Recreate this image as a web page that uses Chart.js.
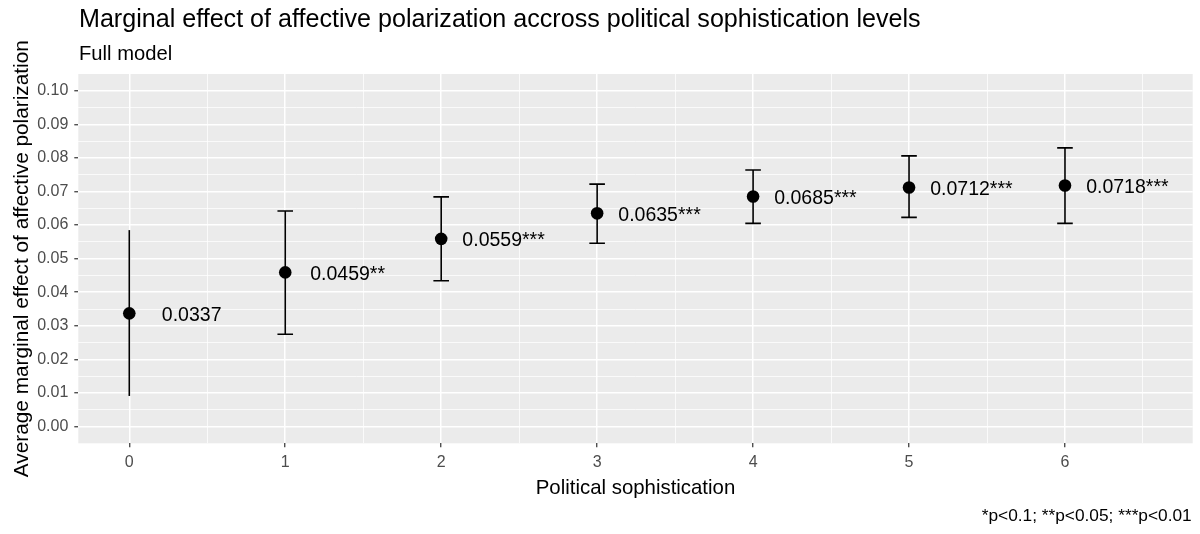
<!DOCTYPE html>
<html>
<head>
<meta charset="utf-8">
<script src="https://cdn.jsdelivr.net/npm/chart.js@4.4.1/dist/chart.umd.min.js"></script>
<style>
  html, body { margin: 0; padding: 0; background: #ffffff; }
  #wrap { width: 1200px; height: 534px; }
  canvas { display: block; }
</style>
</head>
<body>
<div id="wrap"><canvas id="chart" width="1200" height="534"></canvas></div>
<script>
// Average marginal effect of affective polarization by political sophistication level
const sophistication = [0, 1, 2, 3, 4, 5, 6];
const effect = [0.0337, 0.0459, 0.0559, 0.0635, 0.0685, 0.0712, 0.0718];
const ciLow  = [0.0091, 0.0275, 0.0434, 0.0546, 0.0605, 0.0623, 0.0605];
const ciHigh = [0.0585, 0.0642, 0.0684, 0.0722, 0.0764, 0.0806, 0.0830];
const stars  = ['', '**', '***', '***', '***', '***', '***'];

const yTickValues = [0.00, 0.01, 0.02, 0.03, 0.04, 0.05, 0.06, 0.07, 0.08, 0.09, 0.10];
const xTickValues = [0, 1, 2, 3, 4, 5, 6];

const titleText = 'Marginal effect of affective polarization accross political sophistication levels';
const subtitleText = 'Full model';
const xTitleText = 'Political sophistication';
const yTitleText = 'Average marginal effect of affective polarization';
const captionText = '*p<0.1; **p<0.05; ***p<0.01';

const FONT = '"Liberation Sans", Arial, "DejaVu Sans", sans-serif';

// minor lines sit halfway between neighbouring major lines
function withMinor(majors) {
  const out = [];
  for (let i = 0; i < majors.length; i++) {
    out.push({ value: majors[i], minor: false });
    if (i < majors.length - 1) out.push({ value: (majors[i] + majors[i + 1]) / 2, minor: true });
  }
  return out;
}
const yTicksAll = withMinor(yTickValues);
const xTicksAll = withMinor(xTickValues.concat([7])).filter(t => t.value < 7);
const minorAt = (list, v) => list.some(t => t.minor && Math.abs(t.value - v) < 1e-9);

const panelBackground = {
  id: 'panelBackground',
  beforeDraw(chart) {
    const { ctx, chartArea: a } = chart;
    ctx.save();
    ctx.fillStyle = '#EBEBEB';
    ctx.fillRect(a.left, a.top, a.right - a.left, a.bottom - a.top);
    ctx.restore();
  }
};

const errorBars = {
  id: 'errorBars',
  beforeDatasetsDraw(chart) {
    const { ctx, scales: { x, y } } = chart;
    ctx.save();
    ctx.strokeStyle = '#000000';
    ctx.lineWidth = 1.6;
    sophistication.forEach((s, i) => {
      const px = x.getPixelForValue(s);
      const top = y.getPixelForValue(ciHigh[i]);
      const bot = y.getPixelForValue(ciLow[i]);
      ctx.beginPath();
      ctx.moveTo(px, top);
      ctx.lineTo(px, bot);
      if (stars[i]) {
        const half = 7.8;
        ctx.moveTo(px - half, top);
        ctx.lineTo(px + half, top);
        ctx.moveTo(px - half, bot);
        ctx.lineTo(px + half, bot);
      }
      ctx.stroke();
    });
    ctx.restore();
  }
};

const valueLabels = {
  id: 'valueLabels',
  afterDatasetsDraw(chart) {
    const { ctx, scales: { x, y } } = chart;
    ctx.save();
    ctx.fillStyle = '#000000';
    ctx.font = '19.5px ' + FONT;
    ctx.textAlign = 'center';
    ctx.textBaseline = 'middle';
    sophistication.forEach((s, i) => {
      const label = effect[i].toFixed(4) + stars[i];
      ctx.fillText(label, x.getPixelForValue(s + 0.4), y.getPixelForValue(effect[i]) + 2);
    });
    ctx.restore();
  }
};

const annotations = {
  id: 'annotations',
  afterDraw(chart) {
    const { ctx, chartArea: a } = chart;
    ctx.save();
    ctx.fillStyle = '#000000';
    ctx.textBaseline = 'alphabetic';
    ctx.textAlign = 'left';
    ctx.font = '25.1px ' + FONT;
    ctx.fillText(titleText, a.left + 0.7, 27.3);
    ctx.font = '20.2px ' + FONT;
    ctx.fillText(subtitleText, a.left + 0.7, 60);

    ctx.textAlign = 'center';
    ctx.font = '20.4px ' + FONT;
    ctx.fillText(xTitleText, (a.left + a.right) / 2, 493.5);

    ctx.save();
    ctx.font = '20.8px ' + FONT;
    ctx.translate(28, (a.top + a.bottom) / 2);
    ctx.rotate(-Math.PI / 2);
    ctx.fillText(yTitleText, 0, 0);
    ctx.restore();

    ctx.textAlign = 'right';
    ctx.font = '17.3px ' + FONT;
    ctx.fillText(captionText, a.right - 1, 521);
    ctx.restore();
  }
};

new Chart(document.getElementById('chart'), {
  type: 'scatter',
  data: {
    datasets: [{
      data: sophistication.map((s, i) => ({ x: s, y: effect[i] })),
      pointRadius: 6.3,
      pointHoverRadius: 6.3,
      pointBackgroundColor: '#000000',
      pointBorderWidth: 0,
      showLine: false,
      clip: false
    }]
  },
  options: {
    responsive: false,
    animation: false,
    devicePixelRatio: 1,
    layout: { padding: { top: 74, right: 7.3, left: 0, bottom: 0 } },
    plugins: { legend: { display: false }, tooltip: { enabled: false }, title: { display: false } },
    events: [],
    scales: {
      x: {
        type: 'linear',
        min: -0.327,
        max: 6.819,
        afterBuildTicks(scale) { scale.ticks = xTicksAll.map(t => ({ value: t.value })); },
        afterFit(scale) { scale.height = 90.7; },
        border: { display: false },
        grid: {
          color: '#FFFFFF',
          lineWidth: c => (c.tick && minorAt(xTicksAll, c.tick.value)) ? 0.75 : 1.5,
          tickColor: c => (c.tick && minorAt(xTicksAll, c.tick.value)) ? 'rgba(0,0,0,0)' : '#333333',
          tickWidth: 1.2,
          tickLength: 4,
          drawTicks: true
        },
        ticks: {
          autoSkip: false,
          maxRotation: 0,
          padding: 5.5,
          color: '#4D4D4D',
          font: { family: FONT, size: 16 },
          callback: v => minorAt(xTicksAll, v) ? '' : String(v)
        }
      },
      y: {
        type: 'linear',
        min: -0.005,
        max: 0.105,
        afterBuildTicks(scale) { scale.ticks = yTicksAll.map(t => ({ value: t.value })); },
        afterFit(scale) { scale.width = 78.3; },
        border: { display: false },
        grid: {
          color: '#FFFFFF',
          lineWidth: c => (c.tick && minorAt(yTicksAll, c.tick.value)) ? 0.75 : 1.5,
          tickColor: c => (c.tick && minorAt(yTicksAll, c.tick.value)) ? 'rgba(0,0,0,0)' : '#333333',
          tickWidth: 1.2,
          tickLength: 4,
          drawTicks: true
        },
        ticks: {
          autoSkip: false,
          padding: 6,
          color: '#4D4D4D',
          font: { family: FONT, size: 16 },
          callback: v => minorAt(yTicksAll, v) ? '' : v.toFixed(2)
        }
      }
    }
  },
  plugins: [panelBackground, errorBars, valueLabels, annotations]
});
</script>
</body>
</html>
